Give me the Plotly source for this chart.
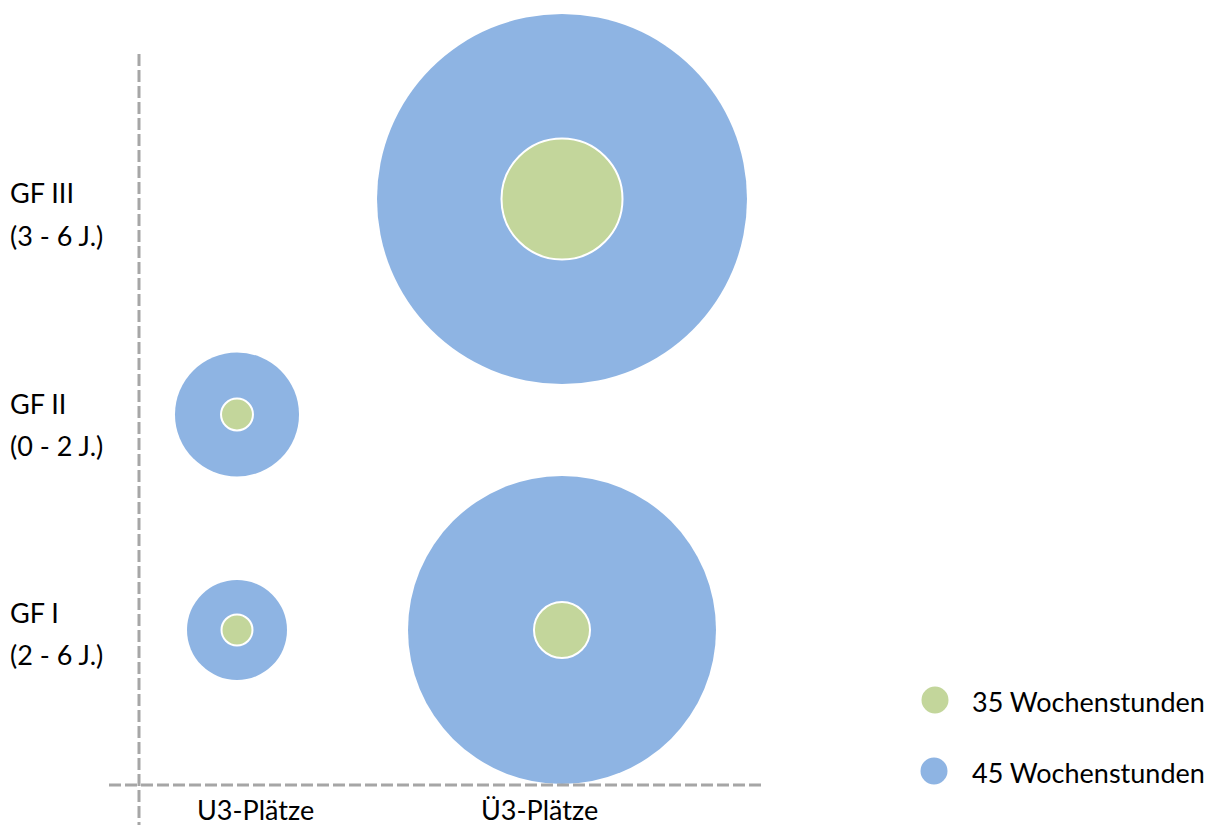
import plotly.graph_objects as go

# ---------------- data ----------------
places = ["U3-Plätze", "Ü3-Plätze"]
groups = ["GF I", "GF II", "GF III"]
group_ages = ["(2 - 6 J.)", "(0 - 2 J.)", "(3 - 6 J.)"]
series_names = ["35 Wochenstunden", "45 Wochenstunden"]

point_place = ["U3-Plätze", "U3-Plätze", "Ü3-Plätze", "Ü3-Plätze"]
point_group = ["GF I", "GF II", "GF I", "GF III"]
values_35h = [9.6, 10.2, 31.4, 146.4]
values_45h = [100.0, 153.8, 948.6, 1369.0]

# ---------------- style ----------------
W, H = 1214, 825
GREEN = "#C3D69B"
BLUE = "#8EB4E3"
AXIS_GRAY = "#A6A6A6"
FONT = "Lato, 'Open Sans', sans-serif"
FSIZE = 27
MAX_BUBBLE_PX = 370
sizeref = 2.0 * max(values_45h) / (MAX_BUBBLE_PX ** 2)

# pixel layout of category centres
x0_px, x_step = 237, 325
y0_px, y_step = 630, 215.5

fig = go.Figure()
fig.add_trace(go.Scatter(
    x=point_place, y=point_group, mode="markers", name=series_names[1],
    marker=dict(size=values_45h, sizemode="area", sizeref=sizeref,
                color=BLUE, opacity=1, line=dict(width=0)),
    showlegend=False, hoverinfo="skip"))
fig.add_trace(go.Scatter(
    x=point_place, y=point_group, mode="markers", name=series_names[0],
    marker=dict(size=values_35h, sizemode="area", sizeref=sizeref,
                color=GREEN, opacity=1, line=dict(width=2, color="white")),
    showlegend=False, hoverinfo="skip"))

def px(p):
    return p / W

def py(p):
    return 1 - p / H

shapes = [
    dict(type="line", xref="paper", yref="paper", x0=px(139), x1=px(139),
         y0=py(54), y1=py(825), line=dict(color=AXIS_GRAY, width=3, dash="12px,4px")),
    dict(type="line", xref="paper", yref="paper", x0=px(109), x1=px(762),
         y0=py(785), y1=py(785), line=dict(color=AXIS_GRAY, width=3, dash="12px,4px")),
]

annotations = []
# row labels
row_mid = {"GF I": (612, 654), "GF II": (403, 445), "GF III": (193, 235)}
for g, age in zip(groups, group_ages):
    a, b = row_mid[g]
    for txt, yy in ((g, a), (age, b)):
        annotations.append(dict(text=txt, xref="paper", yref="paper", x=px(8), y=py(yy),
                                xanchor="left", yanchor="middle", showarrow=False,
                                font=dict(family=FONT, size=FSIZE, color="black")))
# column labels
col_mid = {"U3-Plätze": 255, "Ü3-Plätze": 539}
for p in places:
    annotations.append(dict(text=p, xref="paper", yref="paper", x=px(col_mid[p]), y=py(809),
                            xanchor="center", yanchor="middle", showarrow=False,
                            font=dict(family=FONT, size=FSIZE, color="black")))

# legend
legend_items = [(series_names[0], GREEN, 935, 700), (series_names[1], BLUE, 934, 771)]
for name, col, cx, cy in legend_items:
    r = 13.5
    shapes.append(dict(type="circle", xref="paper", yref="paper",
                       x0=px(cx - r), x1=px(cx + r), y0=py(cy + r), y1=py(cy - r),
                       fillcolor=col, line=dict(width=0)))
    annotations.append(dict(text=name, xref="paper", yref="paper", x=px(970), y=py(cy + 1),
                            xanchor="left", yanchor="middle", showarrow=False,
                            font=dict(family=FONT, size=FSIZE, color="black")))

fig.update_layout(
    width=W, height=H, autosize=False,
    margin=dict(l=0, r=0, t=0, b=0),
    paper_bgcolor="white", plot_bgcolor="white",
    xaxis=dict(type="category", categoryorder="array", categoryarray=places,
               range=[(0 - x0_px) / x_step, (W - x0_px) / x_step],
               visible=False, fixedrange=True),
    yaxis=dict(type="category", categoryorder="array", categoryarray=groups,
               range=[(y0_px - H) / y_step, y0_px / y_step],
               visible=False, fixedrange=True),
    shapes=shapes, annotations=annotations, showlegend=False,
)

fig.write_html("out.html")
